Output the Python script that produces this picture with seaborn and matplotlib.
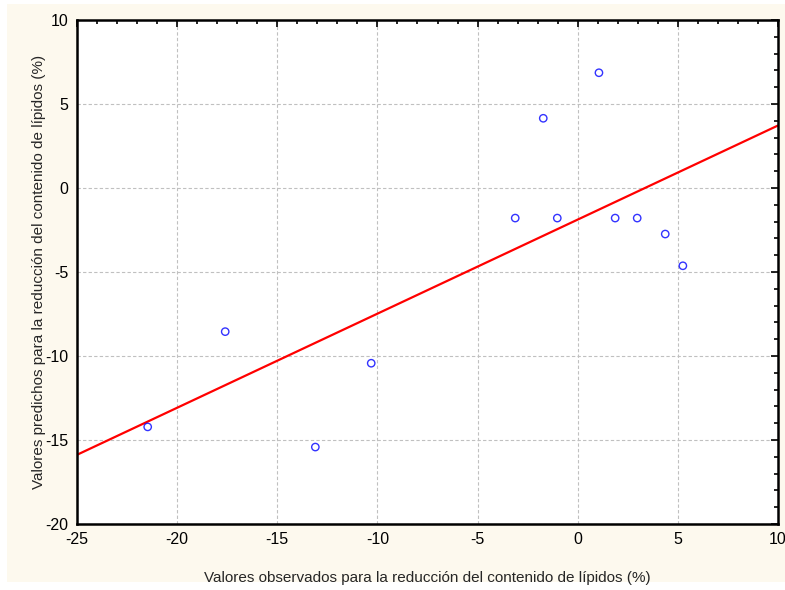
import matplotlib
matplotlib.use("Agg")
import matplotlib.pyplot as plt
import matplotlib.patches as mpatches
from matplotlib.ticker import MultipleLocator
import seaborn as sns
import pandas as pd

# Observed vs predicted values (%)
observed = [-21.47, -17.6, -13.1, -10.31, -3.12, -1.72, -1.02, 1.06, 1.87, 2.97, 4.37, 5.25]
predicted = [-14.22, -8.55, -15.42, -10.43, -1.79, 4.15, -1.79, 6.86, -1.79, -1.79, -2.74, -4.63]
x_ticks = [-25, -20, -15, -10, -5, 0, 5, 10]
y_ticks = [-20, -15, -10, -5, 0, 5, 10]

xlabel = "Valores observados para la reducción del contenido de lípidos (%)"
ylabel = "Valores predichos para la reducción del contenido de lípidos (%)"

df = pd.DataFrame({"obs": observed, "pred": predicted})

sns.set_style("white")
plt.rcParams["font.family"] = ["Liberation Sans", "DejaVu Sans"]
plt.rcParams["axes.unicode_minus"] = False

fig = plt.figure(figsize=(7.85, 5.9), dpi=100, facecolor="white")
bg = mpatches.Rectangle((7 / 785, 8 / 590), 778 / 785, 578 / 590,
                        transform=fig.transFigure, facecolor="#fdf9ee",
                        edgecolor="none", zorder=-10)
fig.add_artist(bg)
ax = fig.add_axes([77 / 785, 1 - 524 / 590, 701 / 785, 504 / 590])
ax.set_zorder(1)
ax.set_facecolor("white")
ax.set_xlim(-25, 10)
ax.set_ylim(-20, 10)

sns.regplot(data=df, x="obs", y="pred", ax=ax, ci=None, truncate=False,
            scatter_kws=dict(s=28, facecolors="none", edgecolors="blue", linewidths=1.0, zorder=3),
            line_kws=dict(color="red", lw=1.6, zorder=2))
ax.set_xlim(-25, 10)
ax.set_ylim(-20, 10)

ax.set_xticks(x_ticks)
ax.set_yticks(y_ticks)
ax.xaxis.set_minor_locator(MultipleLocator(1))
ax.yaxis.set_minor_locator(MultipleLocator(1))
ax.tick_params(which="both", direction="in", top=True, right=True, color="black",
               labelsize=11.5, labelcolor="black")
ax.tick_params(which="major", length=5, width=1.2, pad=6)
ax.tick_params(which="minor", length=3, width=1.2)
ax.grid(True, which="major", linestyle=(0, (3, 2)), color="#c0c0c0", lw=0.8)
for s in ax.spines.values():
    s.set_visible(True)
    s.set_color("black")
    s.set_linewidth(1.8)

ax.set_xlabel(xlabel, fontsize=11, labelpad=17,
              family=["Liberation Sans Narrow", "Liberation Sans", "DejaVu Sans"])
ax.set_ylabel(ylabel, fontsize=11, labelpad=0)

fig.savefig("out.png", dpi=100, facecolor=fig.get_facecolor())
